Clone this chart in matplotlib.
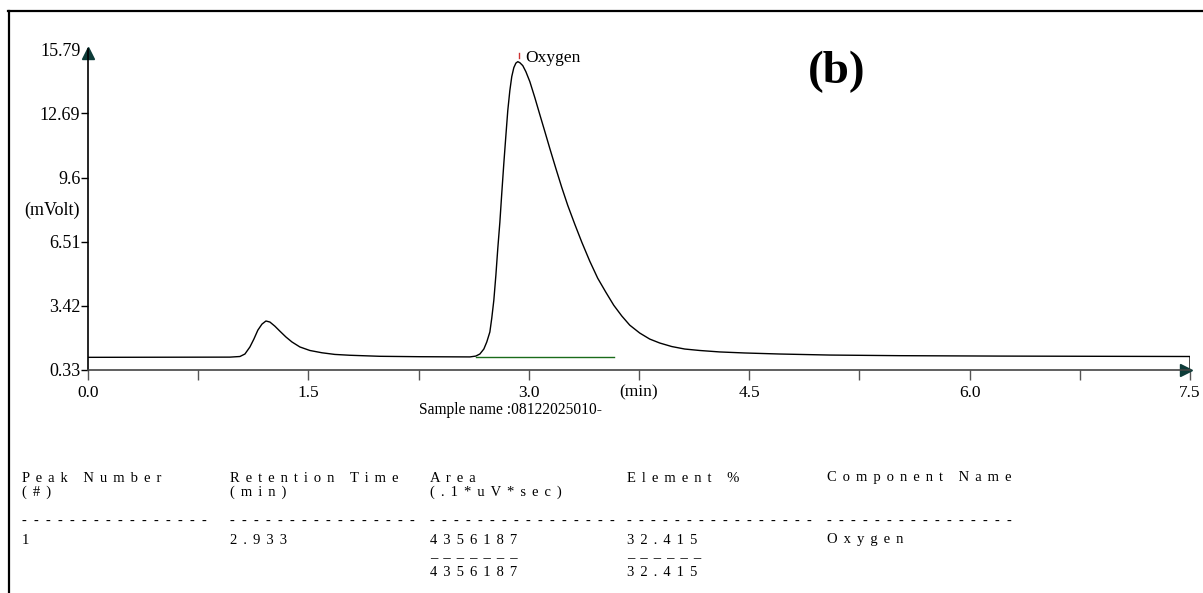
import numpy as np
import matplotlib.pyplot as plt
from matplotlib.lines import Line2D

plt.rcParams['font.family'] = ['Liberation Serif', 'DejaVu Serif']

# chromatogram trace (time in min, signal in mVolt)
time_min = [0.0, 0.966, 1.034, 1.068, 1.102, 1.129, 1.156, 1.184, 1.211, 1.238, 1.272,
            1.306, 1.347, 1.388, 1.442, 1.510, 1.592, 1.680, 1.782, 1.986, 2.259,
            2.599, 2.639, 2.667, 2.694, 2.714, 2.735, 2.748, 2.762, 2.776, 2.789,
            2.803, 2.816, 2.830, 2.844, 2.857, 2.871, 2.884, 2.898, 2.912, 2.925,
            2.939, 2.959, 2.980, 3.007, 3.041, 3.075, 3.109, 3.143, 3.184, 3.224,
            3.265, 3.313, 3.361, 3.415, 3.469, 3.524, 3.578, 3.633, 3.687, 3.755,
            3.823, 3.891, 3.973, 4.061, 4.163, 4.299, 4.469, 4.707, 5.048, 5.524,
            6.204, 7.5, 7.5]
signal_mv = [0.94, 0.95, 0.98, 1.10, 1.44, 1.82, 2.25, 2.54, 2.69, 2.64, 2.44,
             2.20, 1.92, 1.68, 1.44, 1.27, 1.16, 1.08, 1.04, 0.99, 0.97,
             0.96, 1.00, 1.10, 1.34, 1.68, 2.16, 2.83, 3.69, 4.90, 6.19,
             7.44, 8.84, 10.28, 11.62, 12.83, 13.79, 14.46, 14.89, 15.11, 15.18,
             15.13, 14.99, 14.70, 14.22, 13.45, 12.63, 11.82, 11.00, 10.04, 9.13,
             8.26, 7.35, 6.48, 5.57, 4.75, 4.08, 3.45, 2.93, 2.49, 2.11,
             1.82, 1.63, 1.46, 1.34, 1.27, 1.20, 1.15, 1.10, 1.05, 1.02,
             1.00, 0.98, 0.33]

# integration baseline under the oxygen peak
base_t = [2.639, 3.58]
base_v = [0.98, 0.98]

y_ticks = [0.33, 3.42, 6.51, 9.6, 12.69, 15.79]
x_ticks = [0.0, 0.75, 1.5, 2.25, 3.0, 3.75, 4.5, 5.25, 6.0, 6.75, 7.5]
x_tick_labels = ['0.0', '', '1.5', '', '3.0', '(min)', '4.5', '', '6.0', '', '7.5']

peak_name = 'Oxygen'
retention_time = 2.933
sample_name = '08122025010-'

# report table
col_headers = ['Peak Number', 'Retention Time', 'Area', 'Element %', 'Component Name']
col_units = ['(#)', '(min)', '(.1*uV*sec)', '', '']
row_values = ['1', '2.933', '4356187', '32.415', 'Oxygen']
total_values = ['', '', '4356187', '32.415', '']

W, H = 1203, 593
fig = plt.figure(figsize=(W / 100, H / 100), dpi=100)
ax = fig.add_axes([88 / W, 1 - 370 / H, 1102 / W, 321 / H])

ax.plot(time_min, signal_mv, color='black', lw=1.0)
ax.plot(base_t, base_v, color='#1a6b1a', lw=1.0)
ax.plot([retention_time, retention_time], [15.35, 15.6], color='#cc3333', lw=1.0)
ax.text(retention_time + 0.04, 15.37, peak_name, fontsize=12.5, va='center', ha='left')

ax.set_xlim(0, 7.5)
ax.set_ylim(0.33, 15.79)
for s in ['top', 'right']:
    ax.spines[s].set_visible(False)
ax.spines['left'].set_color('black')
ax.spines['left'].set_linewidth(1.2)
ax.spines['bottom'].set_color('#444444')
ax.spines['bottom'].set_linewidth(1.2)

ax.set_yticks(y_ticks)
ax.set_yticklabels([str(v) for v in y_ticks])
ax.set_xticks(x_ticks)
ax.set_xticklabels(x_tick_labels)
ax.tick_params(axis='y', direction='out', length=5, width=1, pad=0.5, labelsize=13)
ax.tick_params(axis='x', direction='out', length=7.5, width=1, pad=3, labelsize=12.5,
               color='#555555')
ax.yaxis.get_major_ticks()[-1].tick1line.set_visible(False)

# axis arrows
ax.plot([0], [15.59], marker='^', ms=8, color='#0d3b38', clip_on=False)
ax.plot([7.47], [0.33], marker='>', ms=8, color='#0d3b38', clip_on=False)

ax.text(-0.0075, 8.02, '(mVolt)', transform=ax.get_yaxis_transform(),
        ha='right', va='center', fontsize=13)

fig.text(510 / W, 1 - 410 / H, 'Sample name :' + sample_name, ha='center', va='center',
         fontsize=11.2)
fig.text(837 / W, 1 - 72 / H, '(b)', ha='center', va='center', fontsize=34,
         fontweight='bold')

# frame lines of the page
fig.add_artist(Line2D([8 / W, 1], [1 - 11 / H, 1 - 11 / H], color='black', lw=1.6))
fig.add_artist(Line2D([9 / W, 9 / W], [0, 1 - 11 / H], color='black', lw=1.6))

SEP = ' \u2006'


def spaced(s):
    return SEP.join(s)


col_x = [22, 230, 430, 627, 827]
fs = 10.5
for i, x in enumerate(col_x):
    fx = x / W
    fig.text(fx, 1 - 478 / H, spaced(col_headers[i]), fontsize=fs, va='center')
    if col_units[i]:
        fig.text(fx, 1 - 492 / H, spaced(col_units[i]), fontsize=fs, va='center')
    fig.text(fx, 1 - 521 / H, '  '.join('-' * 16), fontsize=fs, va='center')
    fig.text(fx, 1 - 540 / H, spaced(row_values[i]), fontsize=fs, va='center')
    if total_values[i]:
        fig.text(fx, 1 - 559 / H, spaced('_' * len(total_values[i])), fontsize=fs,
                 va='bottom')
        fig.text(fx, 1 - 572 / H, spaced(total_values[i]), fontsize=fs, va='center')

fig.savefig('out.png', dpi=100)
